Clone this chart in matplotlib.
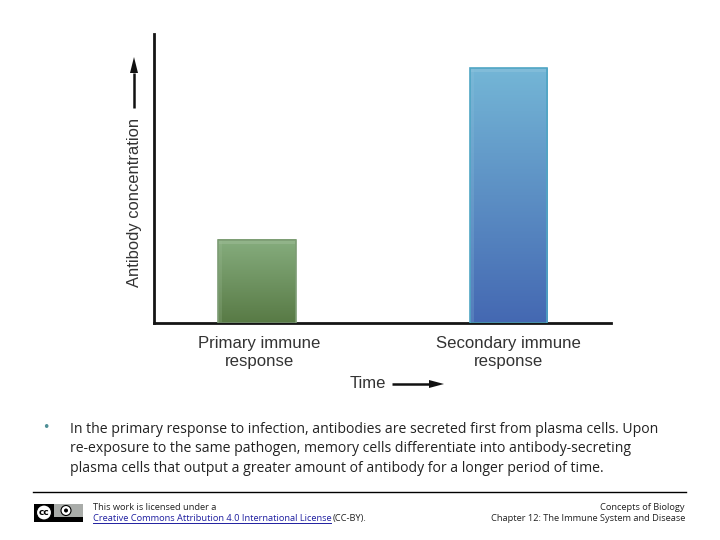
import numpy as np
import matplotlib
matplotlib.use("Agg")
import matplotlib.pyplot as plt
from matplotlib.colors import LinearSegmentedColormap
from matplotlib.patches import Rectangle, Circle, Polygon
from matplotlib.transforms import ScaledTranslation

categories = ["Primary immune\nresponse", "Secondary immune\nresponse"]
values = [1.0, 3.07]
top_colors = ["#86ad7e", "#74b6d6"]
bottom_colors = ["#587a45", "#4468b2"]
edge_colors = ["#7d9c74", "#4fa5c4"]
highlight_colors = ["#a3c09b", "#93c6de"]
x_label = "Time"
y_label = "Antibody concentration"
bullet_lines = [
    "In the primary response to infection, antibodies are secreted first from plasma cells. Upon",
    "re-exposure to the same pathogen, memory cells differentiate into antibody-secreting",
    "plasma cells that output a greater amount of antibody for a longer period of time.",
]
licence_line = "This work is licensed under a"
licence_link = "Creative Commons Attribution 4.0 International License"
licence_tail = "(CC-BY)."
source_lines = ["Concepts of Biology", "Chapter 12: The Immune System and Disease"]

W, H = 720, 540
fig = plt.figure(figsize=(7.2, 5.4), dpi=100, facecolor="white")
plt.rcParams["font.family"] = ["Liberation Sans"]

# overlay in pixel coordinates for decoration and text placement
ov = fig.add_axes([0, 0, 1, 1], facecolor="none", zorder=6)
ov.set_xlim(0, W); ov.set_ylim(H, 0); ov.axis("off")

def T(x, y, s, **kw):
    kw.setdefault("va", "center")
    return ov.text(x, y, s, **kw)

def arrow(x0, y0, x1, y1, head_w, head_l, lw):
    d = np.array([x1 - x0, y1 - y0], float)
    d /= np.hypot(*d)
    n = np.array([-d[1], d[0]])
    tip = np.array([x1, y1], float)
    back = tip - d * head_l
    ov.plot([x0, back[0]], [y0, back[1]], color="#111111", lw=lw, solid_capstyle="butt")
    ov.add_patch(Polygon([tip, back + n * head_w / 2, back - n * head_w / 2], color="#111111", lw=0))

# main chart axes
left, right, top, base = 154, 611, 34, 323
ax = fig.add_axes([left / W, 1 - base / H, (right - left) / W, (base - top) / H], facecolor="none")
x_pos = np.arange(len(values))
width = 0.308
for i, v in enumerate(values):
    cm = LinearSegmentedColormap.from_list("g", [top_colors[i], bottom_colors[i]])
    ax.bar(x_pos[i], v, width=width, color="none", edgecolor=edge_colors[i], linewidth=1.2, zorder=3)
    x0 = x_pos[i] - width / 2
    im = ax.imshow(np.linspace(0, 1, 256).reshape(-1, 1), cmap=cm, aspect="auto", zorder=2,
                   extent=(x0, x0 + width, 0, v), origin="upper")
    # soft bevel along top and left
    dx, dy = 0.016, 0.05
    ax.fill_between([x0, x0 + width], v - dy, v, color=highlight_colors[i], alpha=0.45, lw=0, zorder=2.5)
    ax.fill_between([x0, x0 + dx], 0, v, color=highlight_colors[i], alpha=0.22, lw=0, zorder=2.5)
ax.set_xlim(-0.41, 1.408)
ax.set_ylim(0, 3.48)
for s in ("top", "right"):
    ax.spines[s].set_visible(False)
for s in ("left", "bottom"):
    ax.spines[s].set_linewidth(2.0)
    ax.spines[s].set_color("#151515")
ax.set_yticks([])
ax.set_xticks(x_pos)
ax.set_xticklabels(categories, fontsize=12.05, color="#333333", linespacing=1.2)
ax.tick_params(axis="x", length=0, pad=9.5)
first = ax.get_xticklabels()[0]
first.set_transform(first.get_transform() + ScaledTranslation(2 / 100, 0, fig.dpi_scale_trans))

# axis titles with arrows
T(368, 384, x_label, fontsize=12, color="#333333", ha="center")
arrow(392, 384, 444, 384, 8, 15, 1.8)
T(134, 202.5, y_label, fontsize=11.9, color="#333333", rotation=90, ha="center")
arrow(134, 108, 134, 57, 8, 16, 1.8)

# bullet text
T(46, 428, "\u2022", fontsize=9, color="#4f8f96", ha="center", family="DejaVu Sans")
for y, s in zip([429.5, 449, 468], bullet_lines):
    T(70, y, s, fontsize=10.1, ha="left", family="Open Sans", color="#222222")

# footer
ov.plot([33, 686], [492, 492], color="black", lw=1.0)
foot = dict(family="Open Sans", color="#222222", fontsize=6.7)
T(93, 507, licence_line, ha="left", **foot)
T(93, 518.5, licence_link, ha="left", family="Open Sans", color="#1f1fa0", fontsize=6.65)
T(333, 518.5, licence_tail, ha="left", **foot)
T(685, 507, source_lines[0], ha="right", **foot)
T(685, 518.5, source_lines[1], ha="right", family="Open Sans", color="#222222", fontsize=6.63)
ov.plot([93, 331], [523, 523], color="#1f1fa0", lw=0.7)

# CC badge
ov.add_patch(Rectangle((34, 504), 49, 18, color="#a9aca9", lw=0))
ov.add_patch(Rectangle((34, 517), 49, 5, color="black", lw=0))
ov.add_patch(Rectangle((34, 504), 20, 18, color="black", lw=0))
ov.add_patch(Circle((44, 512.5), 7.5, facecolor="white", edgecolor="black", lw=0.8))
ov.text(44, 512.7, "cc", fontsize=6.5, fontweight="bold", ha="center", va="center", family="DejaVu Sans", color="black")
ov.add_patch(Circle((66, 510.5), 5, facecolor="white", edgecolor="black", lw=0.8))
ov.add_patch(Circle((66, 510.5), 2, facecolor="black", lw=0))

fig.savefig("out.png", dpi=100, facecolor="white")
